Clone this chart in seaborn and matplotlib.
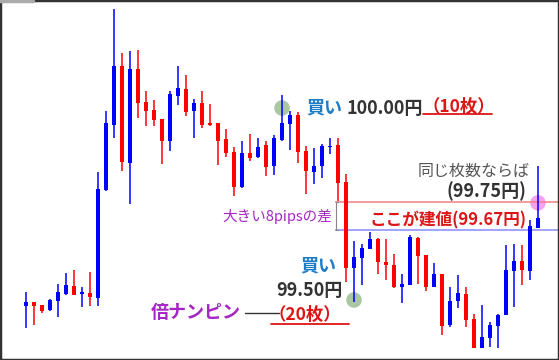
import numpy as np
import pandas as pd
import matplotlib.pyplot as plt
import seaborn as sns

# ─────────────────────────────────────────────
# Data (USD/JPY style candles, price in yen)
# ─────────────────────────────────────────────

opens = [99.484, 99.495, 99.487, 99.474, 99.497, 99.516, 99.536, 99.516, 99.518, 99.505,
         99.786, 99.956, 100.109, 99.857, 100.102, 100.016, 99.995, 99.971, 99.914, 100.031,
         100.049, 99.992, 100.013, 99.961, 99.961, 99.919, 99.885, 99.794, 99.883, 99.872,
         99.904, 99.849, 99.917, 99.958, 99.982, 99.888, 99.833, 99.849, 99.898, 99.904,
         99.807, 99.583, 99.609, 99.633, 99.659, 99.599, 99.591, 99.534, 99.539, 99.661,
         99.617, 99.534, 99.568, 99.435, 99.497, 99.516, 99.451, 99.375, 99.401, 99.432,
         99.461, 99.576, 99.602, 99.576, 99.688]
highs = [99.521, 99.495, 99.487, 99.503, 99.542, 99.570, 99.578, 99.534, 99.573, 99.833,
         99.992, 100.258, 100.143, 100.148, 100.151, 100.044, 100.021, 99.971, 100.044, 100.109,
         100.086, 100.023, 100.044, 100.010, 99.961, 99.945, 99.898, 99.914, 99.932, 99.922,
         99.914, 99.930, 100.034, 99.992, 99.990, 99.901, 99.896, 99.906, 99.922, 99.922,
         99.828, 99.654, 99.646, 99.677, 99.661, 99.659, 99.620, 99.568, 99.669, 99.664,
         99.617, 99.596, 99.568, 99.534, 99.565, 99.534, 99.464, 99.487, 99.443, 99.464,
         99.643, 99.646, 99.643, 99.708, 99.849]
lows = [99.427, 99.435, 99.466, 99.471, 99.456, 99.513, 99.513, 99.482, 99.484, 99.484,
        99.784, 99.922, 99.836, 99.750, 99.974, 99.953, 99.953, 99.854, 99.888, 100.008,
        99.979, 99.922, 99.948, 99.953, 99.852, 99.872, 99.771, 99.792, 99.862, 99.870,
        99.823, 99.826, 99.914, 99.891, 99.857, 99.776, 99.802, 99.818, 99.880, 99.758,
        99.547, 99.495, 99.539, 99.633, 99.568, 99.552, 99.531, 99.492, 99.539, 99.542,
        99.523, 99.534, 99.409, 99.430, 99.479, 99.430, 99.375, 99.375, 99.378, 99.375,
        99.461, 99.482, 99.539, 99.552, 99.688]
closes = [99.495, 99.484, 99.471, 99.500, 99.521, 99.539, 99.513, 99.521, 99.508, 99.789,
          99.961, 100.109, 99.859, 100.102, 100.013, 99.992, 99.969, 99.914, 100.036, 100.052,
          99.990, 100.013, 99.956, 99.956, 99.914, 99.883, 99.794, 99.883, 99.870, 99.898,
          99.846, 99.922, 99.961, 99.982, 99.885, 99.836, 99.849, 99.901, 99.901, 99.805,
          99.583, 99.612, 99.635, 99.659, 99.599, 99.591, 99.534, 99.542, 99.664, 99.615,
          99.534, 99.568, 99.432, 99.497, 99.518, 99.448, 99.375, 99.404, 99.435, 99.461,
          99.578, 99.602, 99.578, 99.693, 99.714]

# entry points (candle index, price)
entry_idx = [32, 41, 64]
entry_price = [100.00, 99.50, 99.753]
entry_kind = ["buy1", "buy2", "avg"]

line_same_lots = 99.755   # 同じ枚数ならば
line_breakeven = 99.682   # ここが建値

UP = "#0000ff"
DOWN = "#ff0000"

df = pd.DataFrame({"open": opens, "high": highs, "low": lows, "close": closes})
df["idx"] = np.arange(len(df))
df["color"] = np.where(df["close"] >= df["open"], UP, DOWN)


# ─────────────────────────────────────────────
# Figure
# ─────────────────────────────────────────────

sns.set_theme(style="white")
plt.rcParams["font.family"] = ["Noto Sans CJK JP", "DejaVu Sans"]

W, H = 559, 360
fig = plt.figure(figsize=(W / 100, H / 100), dpi=100)
ax = fig.add_axes([0, 0, 1, 1])

# pixel -> data helper for annotation placement
X0, DX = 26, 8
Y0, DY = 108, 384


def px(x, y):
    return (x - X0) / DX, 100 - (y - Y0) / DY


ax.set_xlim(px(0, 0)[0], px(W, 0)[0])
ax.set_ylim(px(0, H)[1], px(0, 0)[1])
ax.axis("off")

# entry circles (behind candles)
circ = pd.DataFrame({"idx": entry_idx, "price": entry_price, "kind": entry_kind})
sns.scatterplot(
    data=circ, x="idx", y="price", hue="kind",
    palette={"buy1": "#a9c8a2", "buy2": "#a9c8a2", "avg": "#f2a2ee"},
    s=125, linewidth=0, legend=False, ax=ax, zorder=1
)

# wicks
ax.vlines(df["idx"], df["low"], df["high"], colors=df["color"], lw=1.1, zorder=2)

# bodies
body_h = (df["close"] - df["open"]).abs().clip(lower=0.004)
body_b = df[["open", "close"]].min(axis=1)
ax.bar(df["idx"], body_h, bottom=body_b, width=0.62, color=df["color"],
       linewidth=0, zorder=3)

# horizontal reference lines
x_start = px(335, 0)[0]
ax.hlines(line_same_lots, x_start, px(W, 0)[0], colors="#f08080", lw=1.1, zorder=1)
ax.hlines(line_breakeven, x_start, px(W, 0)[0], colors="#8a8aff", lw=1.1, zorder=1)

# bracket between the two lines
bx = px(336, 0)[0]
ax.plot([bx + 0.25, bx, bx, bx + 0.25],
        [line_same_lots, line_same_lots, line_breakeven, line_breakeven],
        color="#888888", lw=0.8, zorder=4)

# ── Texts ──────────────────────────────────
BLUE_T = "#1f7cc6"
DARK_T = "#333333"
RED_T = "#dd1515"
PURP_T = "#a626c4"


def label(x, y, s, color, size, weight="bold"):
    tx, ty = px(x, y)
    ax.text(tx, ty, s, color=color, fontsize=size, fontweight=weight,
            ha="left", va="center", zorder=5)


label(306, 108, "買い", BLUE_T, 13)
label(347, 108, "100.00円", DARK_T, 13)
label(422, 107, "（10枚）", RED_T, 12.5)
ax.plot(*zip(px(423, 114), px(492, 114)), color=RED_T, lw=1.3)

label(418, 171, "同じ枚数ならば", "#555555", 11.5, "normal")
label(447, 191, "(99.75円)", DARK_T, 13)

label(222, 216, "大きい8pipsの差", PURP_T, 10.5, "normal")
label(369, 220, "ここが建値(99.67円)", RED_T, 12)

label(300, 266, "買い", BLUE_T, 13)
label(276, 291, "99.50円", DARK_T, 13)
label(269, 315, "（20枚）", RED_T, 12.5)
ax.plot(*zip(px(271, 324), px(349, 324)), color=RED_T, lw=1.3)

label(151, 313, "倍ナンピン", PURP_T, 13)
ax.plot(*zip(px(245, 313), px(279, 313)), color=DARK_T, lw=1.0)

# outer frame
fig.patches.append(plt.Rectangle((0, 0), 1, 1, transform=fig.transFigure,
                                 fill=False, edgecolor="#333333", lw=2.5))
fig.lines.append(plt.Line2D([0, 33 / W], [1 - 0.5 / H, 1 - 0.5 / H],
                            transform=fig.transFigure, color="#aaaaaa", lw=2.5))

fig.savefig("out.png", dpi=100)
